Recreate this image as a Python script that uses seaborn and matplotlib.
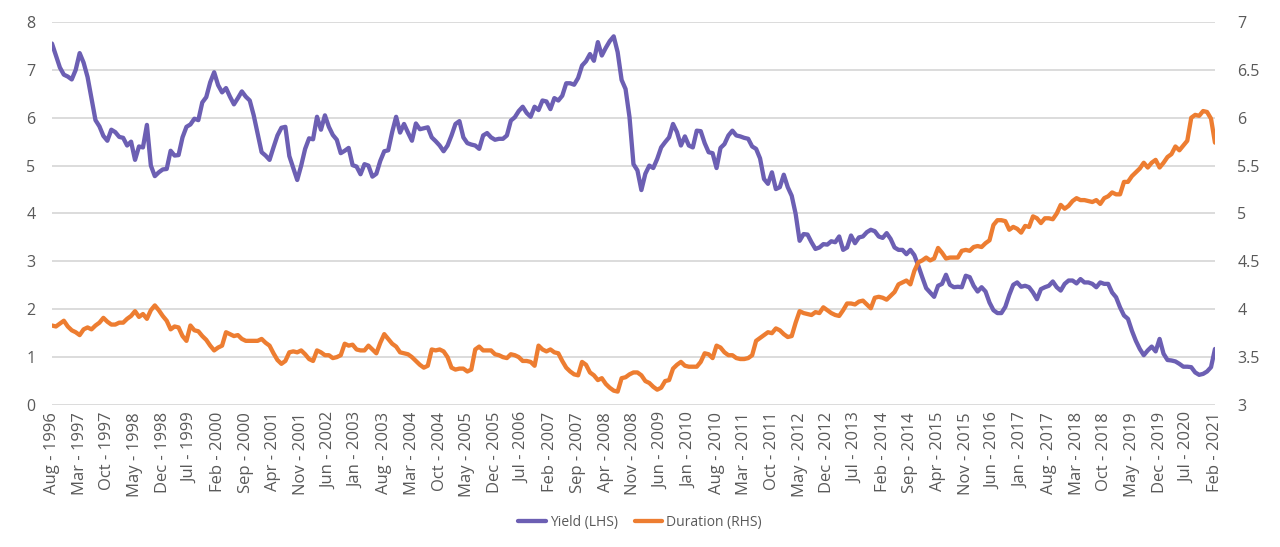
import pandas as pd
import matplotlib
matplotlib.use("Agg")
import matplotlib.pyplot as plt
import seaborn as sns

# monthly values, Aug 1996 .. Feb 2021
yield_lhs = [
    7.55, 7.30, 7.05, 6.90, 6.86, 6.80, 7.00, 7.35, 7.15, 6.85,
    6.40, 5.95, 5.82, 5.62, 5.52, 5.75, 5.70, 5.60, 5.58, 5.42,
    5.50, 5.12, 5.40, 5.38, 5.85, 5.00, 4.78, 4.86, 4.92, 4.93,
    5.31, 5.21, 5.22, 5.59, 5.81, 5.86, 5.98, 5.95, 6.32, 6.43,
    6.74, 6.95, 6.68, 6.53, 6.62, 6.44, 6.28, 6.41, 6.55, 6.44,
    6.36, 6.05, 5.66, 5.28, 5.21, 5.12, 5.38, 5.63, 5.79, 5.81,
    5.20, 4.95, 4.70, 5.00, 5.35, 5.57, 5.55, 6.02, 5.75, 6.05,
    5.81, 5.64, 5.54, 5.26, 5.31, 5.37, 5.01, 4.98, 4.82, 5.03,
    5.00, 4.77, 4.83, 5.10, 5.30, 5.32, 5.70, 6.02, 5.69, 5.87,
    5.69, 5.52, 5.88, 5.76, 5.78, 5.80, 5.59, 5.51, 5.42, 5.30,
    5.42, 5.63, 5.87, 5.93, 5.59, 5.47, 5.44, 5.42, 5.35, 5.63,
    5.68, 5.59, 5.54, 5.56, 5.56, 5.63, 5.94, 6.01, 6.14, 6.23,
    6.10, 6.02, 6.23, 6.16, 6.36, 6.34, 6.18, 6.41, 6.36, 6.46,
    6.72, 6.72, 6.69, 6.83, 7.09, 7.18, 7.33, 7.19, 7.58, 7.30,
    7.46, 7.60, 7.70, 7.37, 6.79, 6.60, 6.01, 5.03, 4.90, 4.49,
    4.83, 5.00, 4.95, 5.14, 5.38, 5.49, 5.59, 5.87, 5.70, 5.42,
    5.61, 5.42, 5.38, 5.73, 5.72, 5.47, 5.28, 5.26, 4.95, 5.37,
    5.45, 5.63, 5.73, 5.63, 5.61, 5.58, 5.56, 5.40, 5.35, 5.15,
    4.72, 4.62, 4.86, 4.51, 4.55, 4.81, 4.55, 4.37, 3.99, 3.43,
    3.57, 3.56, 3.40, 3.26, 3.29, 3.36, 3.35, 3.42, 3.40, 3.52,
    3.24, 3.29, 3.54, 3.38, 3.50, 3.52, 3.61, 3.66, 3.63, 3.52,
    3.49, 3.59, 3.47, 3.29, 3.24, 3.24, 3.15, 3.24, 3.13, 2.91,
    2.67, 2.44, 2.35, 2.26, 2.49, 2.53, 2.72, 2.51, 2.46, 2.47,
    2.46, 2.70, 2.67, 2.49, 2.37, 2.46, 2.37, 2.14, 1.98, 1.92,
    1.92, 2.05, 2.30, 2.51, 2.56, 2.47, 2.49, 2.46, 2.35, 2.21,
    2.42, 2.46, 2.49, 2.58, 2.46, 2.39, 2.53, 2.60, 2.60, 2.54,
    2.63, 2.56, 2.56, 2.53, 2.46, 2.56, 2.53, 2.53, 2.35, 2.25,
    2.04, 1.87, 1.80, 1.55, 1.34, 1.17, 1.04, 1.14, 1.22, 1.12,
    1.38, 1.07, 0.94, 0.93, 0.91, 0.86, 0.80, 0.80, 0.79, 0.68,
    0.63, 0.65, 0.70, 0.79, 1.17,
]

duration_rhs = [
    3.83, 3.82, 3.85, 3.88, 3.82, 3.78, 3.76, 3.73, 3.79, 3.81,
    3.79, 3.83, 3.86, 3.91, 3.87, 3.84, 3.84, 3.86, 3.86, 3.90,
    3.93, 3.98, 3.92, 3.95, 3.90, 3.99, 4.04, 3.99, 3.93, 3.88,
    3.79, 3.82, 3.81, 3.72, 3.67, 3.83, 3.78, 3.77, 3.72, 3.68,
    3.62, 3.57, 3.60, 3.62, 3.76, 3.74, 3.72, 3.73, 3.69, 3.67,
    3.67, 3.67, 3.67, 3.69, 3.65, 3.62, 3.54, 3.47, 3.43, 3.46,
    3.55, 3.56, 3.55, 3.57, 3.53, 3.48, 3.46, 3.57, 3.55, 3.52,
    3.52, 3.49, 3.50, 3.52, 3.64, 3.62, 3.63, 3.58, 3.57, 3.57,
    3.62, 3.58, 3.54, 3.65, 3.74, 3.69, 3.64, 3.61, 3.55, 3.54,
    3.53, 3.50, 3.46, 3.42, 3.39, 3.41, 3.58, 3.57, 3.58, 3.56,
    3.50, 3.39, 3.37, 3.38, 3.38, 3.35, 3.37, 3.58, 3.61, 3.57,
    3.57, 3.57, 3.53, 3.52, 3.50, 3.49, 3.53, 3.52, 3.50, 3.46,
    3.46, 3.45, 3.41, 3.62, 3.58, 3.56, 3.58, 3.55, 3.54, 3.46,
    3.39, 3.35, 3.32, 3.31, 3.45, 3.42, 3.34, 3.31, 3.26, 3.28,
    3.22, 3.18, 3.15, 3.14, 3.28, 3.29, 3.32, 3.34, 3.34, 3.31,
    3.25, 3.23, 3.19, 3.16, 3.18, 3.25, 3.26, 3.38, 3.42, 3.45,
    3.41, 3.40, 3.40, 3.40, 3.45, 3.54, 3.53, 3.49, 3.62, 3.60,
    3.55, 3.52, 3.52, 3.49, 3.48, 3.48, 3.49, 3.52, 3.67, 3.70,
    3.73, 3.76, 3.75, 3.80, 3.78, 3.74, 3.71, 3.72, 3.86, 3.98,
    3.96, 3.95, 3.94, 3.97, 3.96, 4.02, 3.99, 3.96, 3.94, 3.93,
    3.99, 4.06, 4.06, 4.05, 4.08, 4.09, 4.05, 4.01, 4.12, 4.13,
    4.12, 4.10, 4.14, 4.18, 4.26, 4.28, 4.30, 4.26, 4.40, 4.49,
    4.51, 4.54, 4.51, 4.53, 4.64, 4.59, 4.53, 4.54, 4.54, 4.54,
    4.61, 4.62, 4.61, 4.65, 4.66, 4.65, 4.69, 4.72, 4.88, 4.93,
    4.93, 4.92, 4.83, 4.86, 4.84, 4.80, 4.87, 4.86, 4.97, 4.95,
    4.90, 4.95, 4.95, 4.94, 5.00, 5.09, 5.05, 5.08, 5.13, 5.16,
    5.14, 5.14, 5.13, 5.12, 5.14, 5.10, 5.16, 5.18, 5.22, 5.20,
    5.20, 5.33, 5.33, 5.39, 5.43, 5.47, 5.53, 5.48, 5.53, 5.56,
    5.48, 5.53, 5.59, 5.62, 5.70, 5.66, 5.71, 5.76, 6.00, 6.03,
    6.02, 6.07, 6.06, 5.99, 5.74,
]

# one label every 7 months
tick_labels = [
    "Aug - 1996", "Mar - 1997", "Oct - 1997", "May - 1998", "Dec - 1998",
    "Jul - 1999", "Feb - 2000", "Sep - 2000", "Apr - 2001", "Nov - 2001",
    "Jun - 2002", "Jan - 2003", "Aug - 2003", "Mar - 2004", "Oct - 2004",
    "May - 2005", "Dec - 2005", "Jul - 2006", "Feb - 2007", "Sep - 2007",
    "Apr - 2008", "Nov - 2008", "Jun - 2009", "Jan - 2010", "Aug - 2010",
    "Mar - 2011", "Oct - 2011", "May - 2012", "Dec - 2012", "Jul - 2013",
    "Feb - 2014", "Sep - 2014", "Apr - 2015", "Nov - 2015", "Jun - 2016",
    "Jan - 2017", "Aug - 2017", "Mar - 2018", "Oct - 2018", "May - 2019",
    "Dec - 2019", "Jul - 2020", "Feb - 2021",
]

assert len(yield_lhs) == len(duration_rhs) == 295

data = pd.DataFrame({
    "month": range(len(yield_lhs)),
    "Yield (LHS)": yield_lhs,
    "Duration (RHS)": duration_rhs,
})

PURPLE = "#6C5FB3"
ORANGE = "#ED7D31"
GREY = "#595959"

sns.set_theme(style="white")
plt.rcParams["font.family"] = ["Open Sans", "DejaVu Sans"]

fig = plt.figure(figsize=(12.8, 5.47), dpi=100)
ax = fig.add_axes([0.0406, 0.2596, 0.9086, 0.7002])
ax2 = ax.twinx()

sns.lineplot(data=data, x="month", y="Yield (LHS)", ax=ax,
             color=PURPLE, linewidth=3.1, label="Yield (LHS)", legend=False)
sns.lineplot(data=data, x="month", y="Duration (RHS)", ax=ax2,
             color=ORANGE, linewidth=3.1, label="Duration (RHS)", legend=False)

# axes ranges and ticks
ax.set_xlim(0, len(yield_lhs) - 1)
ax.set_ylim(0, 8)
ax2.set_ylim(3, 7)
ax.set_yticks(range(0, 9))
ax2.set_yticks([3, 3.5, 4, 4.5, 5, 5.5, 6, 6.5, 7])
ax2.set_yticklabels(["3", "3.5", "4", "4.5", "5", "5.5", "6", "6.5", "7"])
ax.set_xticks(range(0, len(yield_lhs), 7))
ax.set_xticklabels(tick_labels, rotation=90)

ax.grid(axis="y", color="#D9D9D9", linewidth=1.3)
ax.set_axisbelow(True)
for a in (ax, ax2):
    for s in a.spines.values():
        s.set_visible(False)
    a.set_xlabel("")
    a.set_ylabel("")

ax.tick_params(axis="y", length=0, pad=12, labelsize=11.5, labelcolor=GREY)
ax2.tick_params(axis="y", length=0, pad=16, labelsize=11.5, labelcolor=GREY)
ax.tick_params(axis="x", length=0, pad=5, labelsize=12, labelcolor=GREY)

# legend at the bottom
h1, l1 = ax.get_legend_handles_labels()
h2, l2 = ax2.get_legend_handles_labels()
fig.legend(h1 + h2, l1 + l2, loc="center", bbox_to_anchor=(0.5, 0.045),
           ncol=2, frameon=False, fontsize=10, handlelength=2.0,
           columnspacing=1.2, handletextpad=0.3, labelcolor=GREY)

fig.savefig("out.png", dpi=100)
